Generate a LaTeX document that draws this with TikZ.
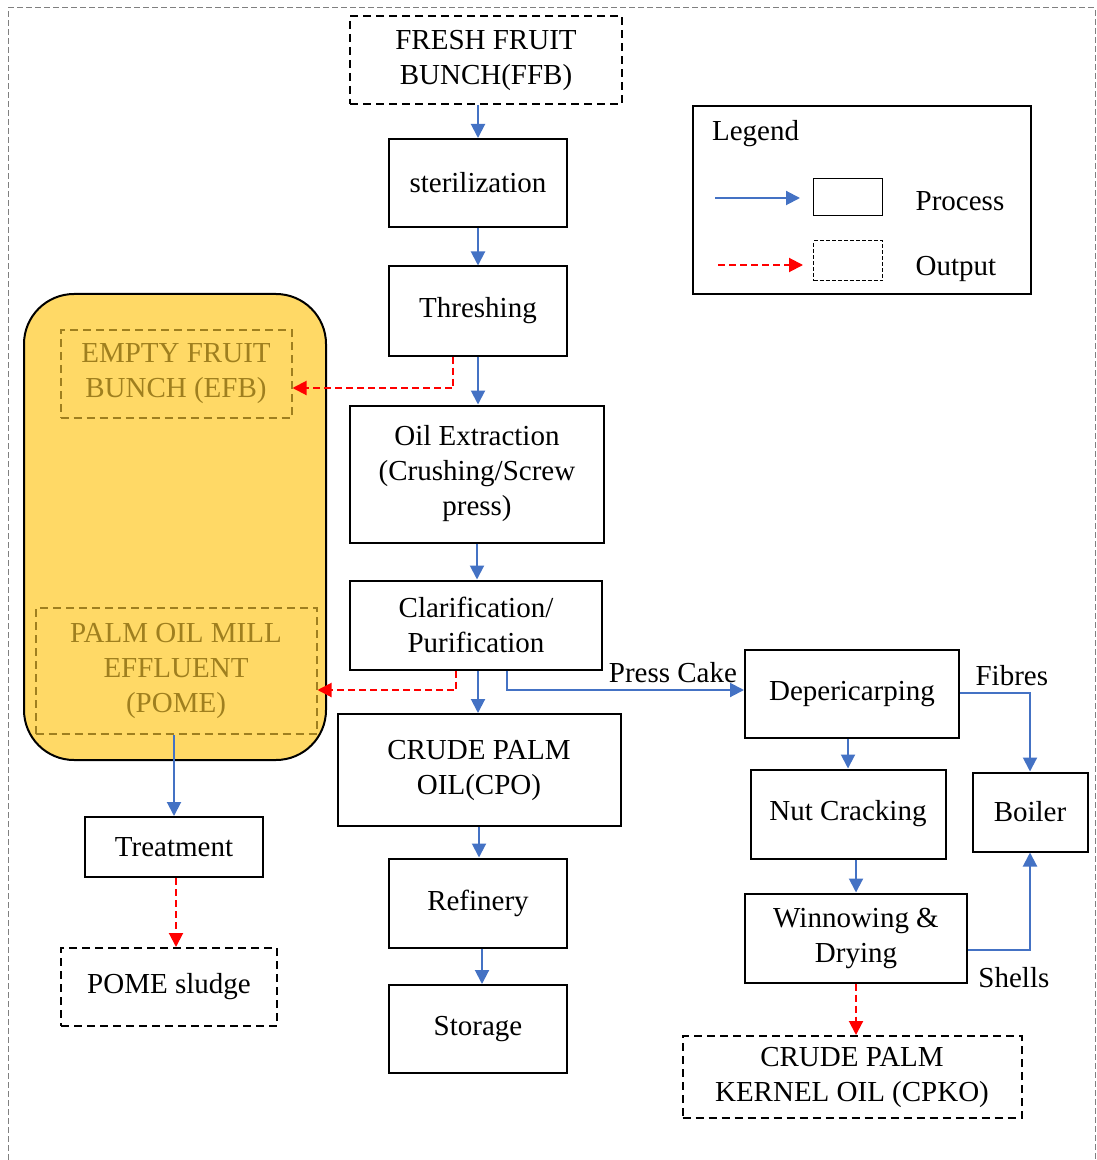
\documentclass[tikz,border=0pt]{standalone}
\usepackage{fontspec}
\setmainfont{Liberation Serif}
\usetikzlibrary{arrows.meta}
\usetikzlibrary{calc}

\definecolor{flowblue}{HTML}{4472C4}
\definecolor{outred}{HTML}{FF0000}
\definecolor{effyellow}{HTML}{FFD966}
\definecolor{effgold}{HTML}{9F7F1F}

\tikzset{
  process/.style={draw, line width=1pt, align=center, inner sep=2pt},
  output/.style={draw, line width=1pt, dash pattern=on 4pt off 2.5pt, align=center, inner sep=2pt},
  effluent/.style={output, draw=effgold, text=effgold},
  flow/.style={draw=flowblue, line width=1pt, -{Triangle[length=7pt,width=7pt]}},
  outflow/.style={draw=outred, line width=1pt, dash pattern=on 3.5pt off 2pt, -{Triangle[length=7pt,width=7pt]}},
}

\begin{document}
\begin{tikzpicture}[x=0.5pt, y=-0.5pt, font=\fontsize{14.5}{17.5}\selectfont]
                \useasboundingbox (0,0) rectangle (1096,1160);
                \draw[gray, line width=0.5pt, dash pattern=on 3pt off 1.5pt] (8,1160) -- (8,8) -- (1095,8) -- (1095,1160);
                % effluent group
                \draw[fill=effyellow, line width=1pt, rounded corners=25pt] (24,294) rectangle (326,760);
                % main line
                \node[output, minimum width=136pt, minimum height=44pt] (ffb) at (486,60) {FRESH FRUIT\\BUNCH(FFB)};
                \node[process, minimum width=89pt, minimum height=44pt] (steril) at (478,183) {sterilization};
                \node[process, minimum width=89pt, minimum height=44.5pt] (thresh) at (478,311) {Threshing};
                \node[process, minimum width=127pt, minimum height=68.5pt] (oil) at (477,474) {Oil Extraction\\(Crushing/Screw\\press)};
                \node[process, minimum width=126pt, minimum height=44.5pt] (clar) at (476,625) {Clarification/\\Purification};
                \node[process, minimum width=141.5pt, minimum height=56pt] (cpo) at (479,770) {CRUDE PALM\\OIL(CPO)};
                \node[process, minimum width=89pt, minimum height=44.5pt] (refinery) at (478,903) {Refinery};
                \node[process, minimum width=89pt, minimum height=44pt] (storage) at (478,1029) {Storage};
                % effluents
                \node[effluent, minimum width=115.5pt, minimum height=44pt] (efb) at (176,374) {EMPTY FRUIT\\BUNCH (EFB)};
                \node[effluent, minimum width=140.5pt, minimum height=63pt] (pome) at (176,671) {PALM OIL MILL\\EFFLUENT\\(POME)};
                \node[process, minimum width=89pt, minimum height=30pt] (treatment) at (174,847) {Treatment};
                \node[output, minimum width=108pt, minimum height=39pt] (sludge) at (169,987) {POME sludge};
                % kernel line
                \node[process, minimum width=107pt, minimum height=44pt] (deper) at (852,694) {Depericarping};
                \node[process, minimum width=97.5pt, minimum height=44.5pt] (nut) at (848,814) {Nut Cracking};
                \node[process, minimum width=57.5pt, minimum height=39.5pt] (boiler) at (1030,812) {Boiler};
                \node[process, minimum width=111pt, minimum height=44.5pt] (winnow) at (856,938) {Winnowing \&\\Drying};
                \node[output, minimum width=169.5pt, minimum height=41pt] (cpko) at (852,1077) {CRUDE PALM\\KERNEL OIL (CPKO)};
                % legend
                \node[draw, line width=1pt, minimum width=169pt, minimum height=94pt] (legend) at (862,200) {};
                \node[anchor=west] (legtitle) at (705,134) {Legend};
                \node[draw, line width=0.5pt, minimum width=34.5pt, minimum height=18.5pt] (procbox) at (848,197) {};
                \node[draw, line width=0.5pt, dash pattern=on 2pt off 1pt, minimum width=34.5pt, minimum height=20pt] (outbox) at (848,261) {};
                \node (proctext) at (960,201) {Process};
                \node (outtext) at (956,269) {Output};
                \coordinate (procstart) at (715,198);
                \coordinate (procend) at (800,198);
                \coordinate (outstart) at (718,265);
                \coordinate (outend) at (803,265);
                \draw[flow] (procstart) -- (procend);
                \draw[outflow] (outstart) -- (outend);
                % connectors
                \draw[flow] (steril.north |- ffb.south) -- (steril.north);
                \draw[flow] (steril) -- (thresh);
                \draw[flow] (thresh.south) -- (thresh.south |- oil.north);
                \draw[flow] (oil.south) -- (oil.south |- clar.north);
                \draw[flow] ([xshift=1pt]clar.south) -- ([xshift=1pt]clar.south |- cpo.north);
                \draw[flow] (cpo.south) -- (cpo.south |- refinery.north);
                \draw[flow] ([xshift=2pt]refinery.south) -- ([xshift=2pt]refinery.south |- storage.north);
                \draw[outflow] ([xshift=-12.5pt]thresh.south) |- ([yshift=-7pt]efb.east);
                \draw[outflow] ([xshift=-10pt]clar.south) |- ([yshift=-9.5pt]pome.east);
                \draw[flow] ([xshift=15.5pt]clar.south) |- node[pos=0.85, above] {Press Cake} ([yshift=2pt]deper.west);
                \draw[flow] (treatment.north |- pome.south) -- (treatment.north);
                \draw[outflow] ([xshift=1pt]treatment.south) -- ([xshift=1pt]treatment.south |- sludge.north);
                \draw[flow] (nut.north |- deper.south) -- (nut.north);
                \draw[flow] ([yshift=0.5pt]deper.east) -| node[pos=0.37, above] {Fibres} (boiler.north);
                \draw[flow] ([yshift=-6pt]winnow.east) -| node[pos=0.37, below=5pt] {Shells} (boiler.south);
                \draw[flow] (winnow.north |- nut.south) -- (winnow.north);
                \draw[outflow] (winnow.south) -- (winnow.south |- cpko.north);
            \end{tikzpicture}
\end{document}
